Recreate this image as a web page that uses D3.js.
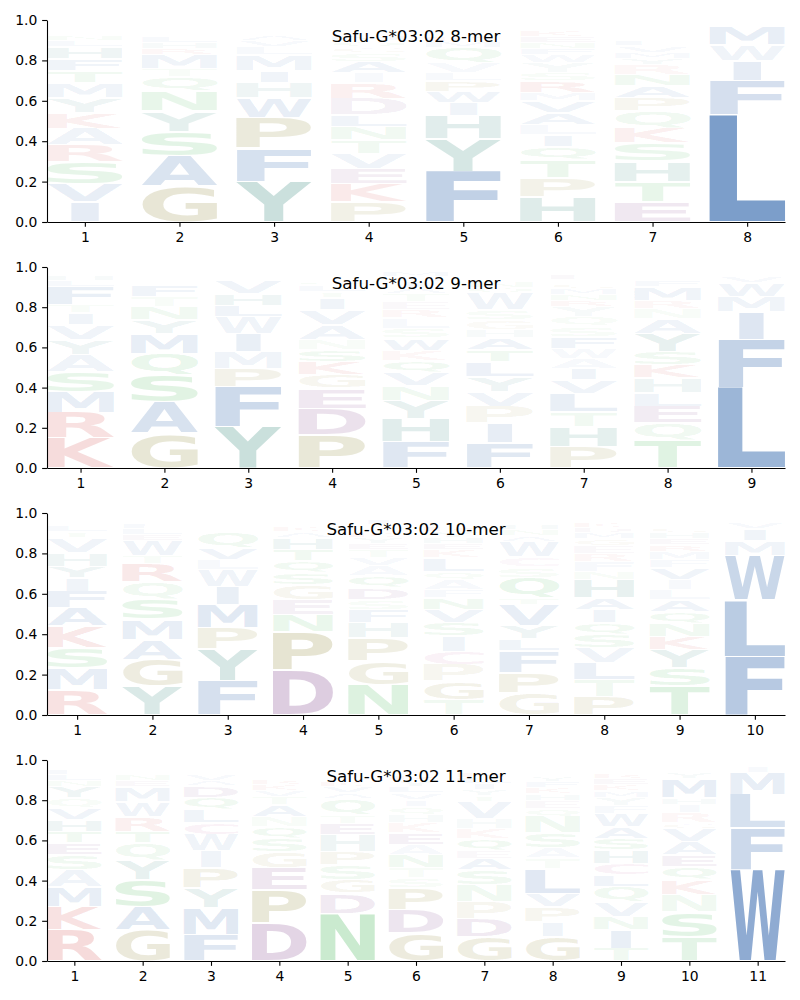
<!DOCTYPE html>
<html><head><meta charset="utf-8">
<script src="https://cdn.jsdelivr.net/npm/d3@7"></script>
<style>body{margin:0;background:#fff}</style>
</head><body>
<svg id="chart" width="800" height="1000"></svg>
<script>
// ---------------- DATA ----------------
const titles = ["Safu-G*03:02 8-mer", "Safu-G*03:02 9-mer", "Safu-G*03:02 10-mer", "Safu-G*03:02 11-mer"];
const yTickValues = [0, 0.2, 0.4, 0.6, 0.8, 1.0];

// letter + frequency (%) per position, stacked bottom to top
const mer8 = [
  "I10 V9 S10.7 R8.3 A8.3 K8 Y7 M7.4 T6.1 F6 H6 L3 N2.5 W2 Q2 G1",
  "G17.5 A15 S12.4 Y10 N10 Q7 T4 M7 R3 H3 L3 K2 W2 V2 E1.5 F1",
  "Y20 F16.5 P15 W10 H7.5 I5.8 M8 L4 V3 A2.5 R2 S2 N1.5 Q1 K1",
  "P10 K9 E7.5 V7.5 T6.6 N6.6 L5.8 D8.2 R7.5 I5 A5.8 S4 G3 Q3 M2.5 F2 Y2 H2 W1.5",
  "F25 Y16 H11.5 I6.3 W5.6 P5.5 L4 V5 Q7.5 M3 K2.5 S2 T2 N1.5 A1.5 G1",
  "H12.5 P9.4 T8.7 Q6.6 I5.8 L5 A6 V6 M4 R5.8 S4 Y5 W4 F3 N3 E3 K3 D2 G2 C1",
  "E10 T10 H10 S9 K7.5 Q8.3 P6.6 A5.8 N5.8 R5 Y3 M3 V3 L2.5 F2 I2 G2 W2 D2",
  "L53 F17 I10 W7.5 M9 V2 Y1.5"
];
const mer9 = [
  "K14.8 R12.8 M10.4 S10 A8.3 Y7.5 V7.5 I5.8 T4 F9 L3 H2.5 N2 W1.5 Q1",
  "G17.2 A15.7 S13.3 Q10.8 M10 Y6.6 N6.6 T5 F5.8 V2 K2 L2 R1.5 W1.5 H1",
  "Y20.5 F20 P9 M8.3 I9 W8.3 L5.8 H5.8 V6.6 R1.5 S1.5 A1.5 Q1 N1",
  "P16.4 D13.3 E10 G6.6 K6.6 S5.8 N5 A7.5 V7.5 I5.8 T3 L3 Q2.5 F2 M2 H1.5 R1",
  "F13 H11.6 Y9 N7.5 V6.6 Q5.8 K5 W6 S5 L5 R4 E4 T4 A3 I3 G2.5 M2.5 P1.5",
  "F12.6 I9.6 P8.3 V7.5 Y7.5 L7.5 T5.8 A5.8 H4 G5 S5 W8.3 Q3 N3 R2 K2 M2 E1.5",
  "P10.6 H10 T7.5 L9 V6.6 I5.8 A5 W5 F5.8 S5 Q5 Y5 R3 N3 M3 G2.5 K2 E2.5 D1.5 C2",
  "T14 Q8.3 E8.3 L6.6 H7.5 K6.6 S6.6 Y9 A7.5 N5 R4 M6.6 F3 G2 W2 I2 V1",
  "L40 F24 I13.6 M7.8 W6.6 V3 Y2 A1.5 C1.5"
];
const mer10 = [
  "R12.5 M10.7 S10 K10.7 A9 F8.3 I6.6 Y5.8 H6.6 V7.4 T3 L3 N2 W1.5 Q1.5 E1",
  "Y14.2 G13.2 A10 M10 S10 Q8.3 R9 T4 W7.5 E3 L3 F2.5 H2 N2 K1",
  "F16.7 Y15.7 P10.7 M11.5 I9 W8.3 L5 V5.8 Q7.5 A2 R2 S2 T1.5 N1.5 E1",
  "D22 P19 N8.6 E7.5 G7.5 S5.8 Q5.8 T5.8 H5.8 A3 K2.5 V2 R2 I1.5 L1",
  "N15 G11.5 P11.5 H7.5 F6.6 S5 D5.8 Q5.8 A5 V4 T4 E3 Y3 K2.5 R2 L2 I2.5 M1.5 W1.5",
  "T7.6 G9 P8.3 C6.6 I7.5 S6.6 V6.6 N5.8 F4 A5 Q4 L6.6 K4 E3 H3 Y3 R2.5 D2 M2 W2",
  "G11 P10 F10.7 L5.8 Y6.6 V10.7 T3.3 Q10 S5 C5 W7.5 A3 N3 H2.5 E2 M2 K1.5 R1",
  "P9 T8.3 L8.3 V7.5 S6.6 Q5.8 I6.6 A5.8 H9 N4 F5 R4 E4 G3.5 M3 D2.5 K2.5 Y2 W1.5 C1",
  "T14.2 S9 Y9 K6.6 N6.6 Q5.8 A5.8 L5 I5 V5.8 F4 M4 R3.5 E3 H3 G2.5 W2 P2 D1.5",
  "F29 L28 W22 M7 I6 V3 Y2 A1.5"
];
const mer11 = [
  "R15.4 K11.6 M10 A8.3 S7.5 E5.8 T5.8 H5.8 V5.8 Q5 Y5.8 N3 L3 F2.5 I2 W1.5 G1",
  "G15.4 A11.6 S13.3 Y10 Q8.3 T5.8 R7.5 W7.5 M7.5 E3 N3 L2 H2 F1.5 K1.5",
  "F13 M13.3 Y10 P10 I8.3 W8.3 C5.8 L6.6 Q6 D5.6 A3 V3 S2 R2 N1.5",
  "D18.7 P16.6 E10.8 G8.3 S6.6 Q5.8 N5 A5.8 T4 V3 K3 R2.5 I2 L2 H2 Y1.5 M1.5 F1",
  "N23.7 D10 G6.6 S7.5 P6.6 H8.3 E5.8 T4 Q8 A3 V3 K2.5 Y2 L2 R2 I1.5 F1.5 M1",
  "G13.8 D11.6 P10.8 S5 T5 N6.6 A5 E5.8 K5 H4 Q4 I3.5 V3.5 L3 Y3 R2.5 F2 W2 M1.5",
  "G12 D9 P8.3 N8.3 S7.5 A5.8 E4 Q5.8 K5 H5 V8.3 T3 Y3 I3 L3 R2.5 F2 M2 W1.5",
  "G12 I7.5 P7.5 V6.6 L12.5 T5 A5 S7.5 N8.3 Q4 E4 H3.5 K3 F3 Y2.5 R2 M2 D2 W1.5 C1",
  "T6.3 I9 N6.6 V7.5 Q7.5 L5.8 C5.8 H6.6 S5.8 A5.8 W6.6 F4 Y4 M3.5 K3 E3 R2.5 G2 P2 D1.5",
  "T12 S12.5 N8.3 K7.5 Q6.6 E5.8 A6.6 V6.6 G3 R5 I4 H3.5 M9 Y3 L2 F2 W1.5",
  "W45.4 F20.7 L16.6 M10.8 I3.3 V1.5"
];
const panelsData = [mer8, mer9, mer10, mer11];

// amino-acid colour groups
const groupColors = {
  hydrophobic: "rgb(20,80,160)",
  aromaticPolar: "rgb(10,110,95)",
  special: "rgb(130,120,30)",
  acidic: "rgb(110,40,120)",
  basic: "rgb(200,30,30)",
  polar: "rgb(40,170,60)",
  cys: "rgb(190,60,140)"
};
const aaGroup = {
  A:"hydrophobic", V:"hydrophobic", L:"hydrophobic", I:"hydrophobic", M:"hydrophobic", F:"hydrophobic", W:"hydrophobic",
  Y:"aromaticPolar", H:"aromaticPolar",
  P:"special", G:"special",
  D:"acidic", E:"acidic",
  K:"basic", R:"basic",
  S:"polar", T:"polar", N:"polar", Q:"polar",
  C:"cys"
};

// ---------------- DRAW ----------------
const svg = d3.select("#chart");
const FONT = "'DejaVu Sans', sans-serif";
const canvas = document.createElement("canvas");
const ctx = canvas.getContext("2d");
ctx.font = "bold 100px 'DejaVu Sans'";
const metricCache = {};
function metrics(ch) {
  if (!metricCache[ch]) {
    const m = ctx.measureText(ch);
    metricCache[ch] = {l: m.actualBoundingBoxLeft, r: m.actualBoundingBoxRight,
      a: m.actualBoundingBoxAscent, d: m.actualBoundingBoxDescent};
  }
  return metricCache[ch];
}
const eM = metrics("E");
const eW = eM.l + eM.r;

const layout = [
  {top: 20, bottom: 222},
  {top: 267, bottom: 468},
  {top: 513, bottom: 715},
  {top: 760, bottom: 961}
];
const left = 47, right = 785;
const tickLen = 4.86, tickPad = 4.86;

panelsData.forEach((rows, pi) => {
  const n = rows.length;
  const L = layout[pi];
  const x = d3.scaleLinear().domain([0.6, n + 0.4]).range([left, right]);
  const y = d3.scaleLinear().domain([0, 1]).range([L.bottom, L.top]);
  const g = svg.append("g");
  const glyphs = g.append("g");

  rows.forEach((row, i) => {
    const pos = i + 1;
    const items = row.split(" ").map(s => ({aa: s[0], v: +s.slice(1) / 100}));
    let cum = 0;
    items.forEach(it => {
      const x0 = x(pos - 0.4), x1 = x(pos + 0.4);
      const w = x1 - x0;
      const pad = 0.8;
      const yb = y(cum) - pad, yt = y(cum + it.v) + pad;
      cum += it.v;
      const h = yb - yt;
      if (h <= 0.2) return;
      const m = metrics(it.aa);
      const inkW = m.l + m.r, inkH = m.a + m.d;
      const sx = Math.min(w / inkW, w / eW);
      const xs = x0 + (w - sx * inkW) / 2;
      const sy = h / inkH;
      glyphs.append("text")
        .attr("font-family", FONT)
        .attr("font-weight", "bold")
        .attr("font-size", 100)
        .attr("fill", groupColors[aaGroup[it.aa]])
        .attr("fill-opacity", Math.min(1, it.v * 1.05))
        .attr("transform", `translate(${xs},${yb}) scale(${sx},${sy}) translate(${m.l},${-m.d})`)
        .text(it.aa);
    });
  });

  const xAxis = d3.axisBottom(x).tickValues(d3.range(1, n + 1)).tickFormat(d3.format("d"))
    .tickSizeOuter(0).tickSizeInner(tickLen).tickPadding(tickPad);
  const yAxis = d3.axisLeft(y).tickValues(yTickValues).tickFormat(d3.format(".1f"))
    .tickSizeOuter(0).tickSizeInner(tickLen).tickPadding(tickPad);

  const gx = g.append("g").attr("transform", `translate(0,${L.bottom})`).call(xAxis);
  const gy = g.append("g").attr("transform", `translate(${left},0)`).call(yAxis);
  [gx, gy].forEach(a => {
    a.selectAll("path, line").attr("stroke", "#000").attr("stroke-width", 1.1);
    a.selectAll("text").attr("font-family", FONT).attr("font-size", "13.9px").attr("fill", "#000");
  });

  g.append("text")
    .attr("x", (left + right) / 2)
    .attr("y", L.top + 16)
    .attr("text-anchor", "middle")
    .attr("dominant-baseline", "central")
    .attr("font-family", FONT)
    .attr("font-size", "16.7px")
    .attr("fill", "#000")
    .text(titles[pi]);
});
</script>
</body></html>
